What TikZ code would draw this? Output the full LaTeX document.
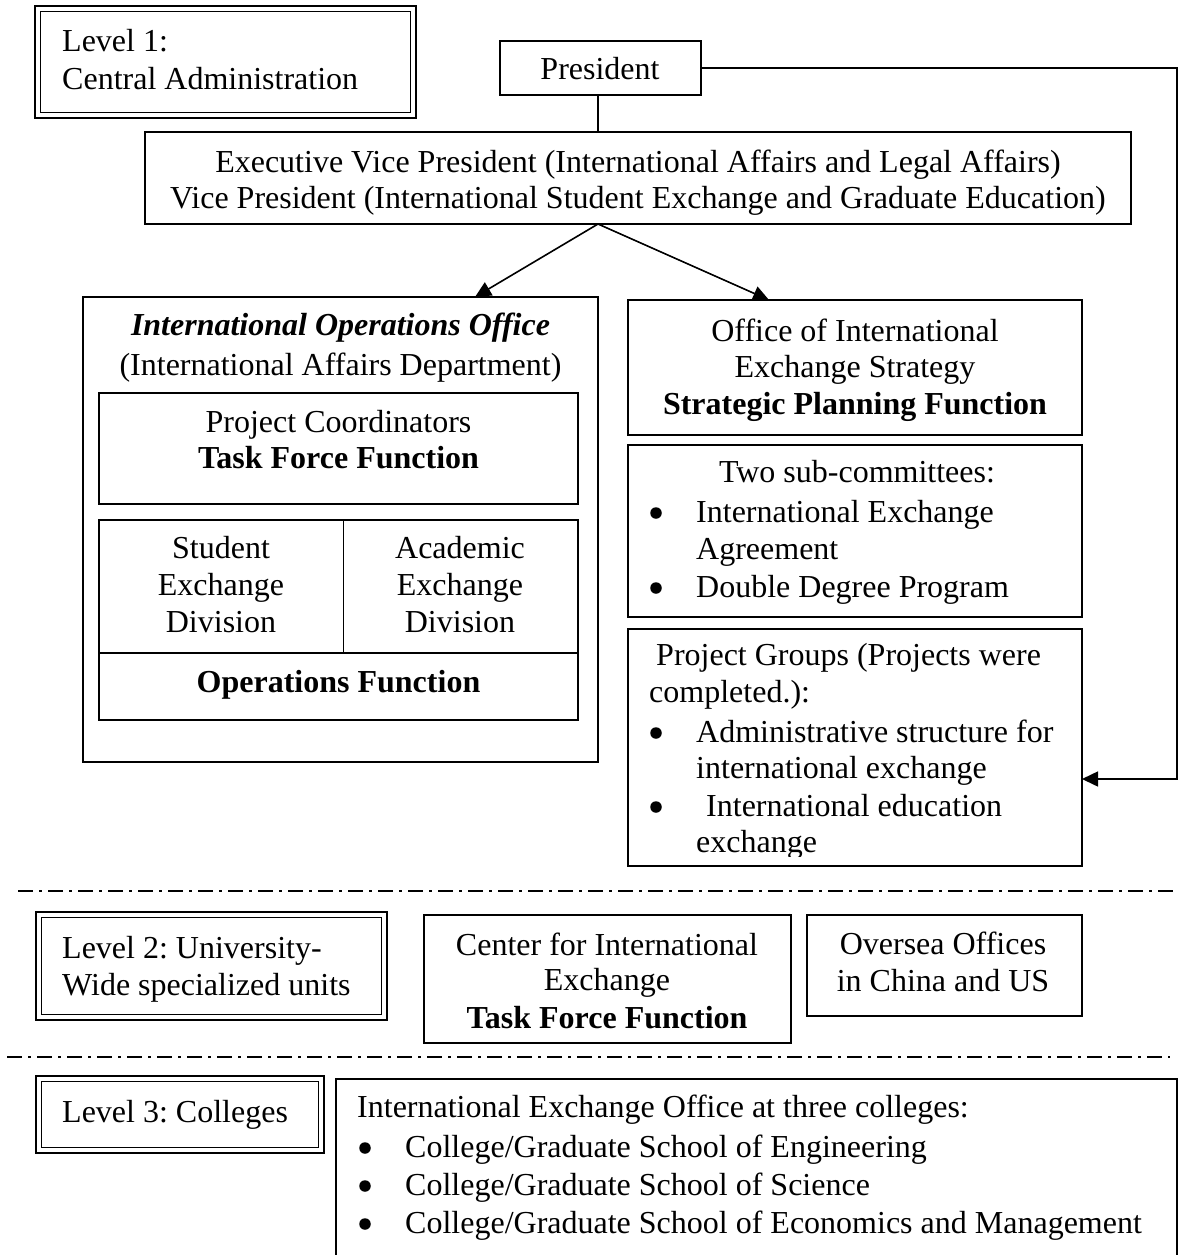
\documentclass[tikz,border=0pt]{standalone}
\usepackage{fontspec}
\setmainfont{Liberation Serif}
\usetikzlibrary{arrows.meta}

\begin{document}
\frenchspacing
\begin{tikzpicture}[x=1pt,y=-1pt,
  every node/.style={font=\fontsize{32}{37}\selectfont},
  box/.style={draw, line width=1.6pt, inner sep=0pt, outer sep=0pt},
  framebox/.style={draw, line width=2.5pt, inner sep=0pt, outer sep=0pt},
  innerframe/.style={line width=1.3pt},
  txt/.style={inner sep=0pt, anchor=base},
  txtl/.style={inner sep=0pt, anchor=base west},
  dot/.style={circle, fill, inner sep=0pt, minimum size=11.5pt},
  link/.style={line width=1.6pt},
  arr/.style={link, -{Triangle[length=16pt,width=15pt]}},
  levelsep/.style={line width=1.5pt, dash pattern=on 15pt off 6pt on 3pt off 6pt},
]
\useasboundingbox (0,0) rectangle (1178,1255);
\fill[white] (0,0) rectangle (1178,1255);

% ---------- Level 1 ----------
\node[framebox, minimum width=381pt, minimum height=112pt] (lvA) at (225.5,62) {};
\draw[innerframe] ([shift={(5.5,5.5)}]lvA.north west) rectangle ([shift={(-5.5,-5.5)}]lvA.south east);
\node[txtl] (lvA1) at (62,52) {Level 1:};
\node[txtl] (lvA2) at (62,89) {Central Administration};

\node[box, minimum width=201pt, minimum height=54pt] (pres) at (600.5,68) {};
\node[txt] (presT) at (600,80) {President};
\coordinate (presdown) at ([xshift=-2.5pt]pres.south);

\node[box, minimum width=986pt, minimum height=92pt] (evp) at (638,178) {};
\node[txt] (evp1) at (638,172) {Executive Vice President (International Affairs and Legal Affairs)};
\node[txt] (evp2) at (638,208) {Vice President (International Student Exchange and Graduate Education)};

% International Operations Office
\node[box, minimum width=515pt, minimum height=465pt] (ioo) at (340.5,529.5) {};
\node[txt] (ioo1) at (340.5,335) {\bfseries\itshape International Operations Office};
\node[txt] (ioo2) at (340.5,375) {(International Affairs Department)};

\node[box, minimum width=479pt, minimum height=111pt] (pc) at (338.5,448.5) {};
\node[txt] (pc1) at (338.5,432) {Project Coordinators};
\node[txt] (pc2) at (338.5,468) {\bfseries Task Force Function};

\node[box, minimum width=479pt, minimum height=200pt] (tbl) at (338.5,620) {};
\draw[link] ([yshift=-133pt]tbl.north west) -- ([yshift=-133pt]tbl.north east);
\draw[link] ([xshift=244.5pt]tbl.north west) -- ([xshift=244.5pt,yshift=-133pt]tbl.north west);
\node[txt] (sed1) at (221,558) {Student};
\node[txt] (sed2) at (221,595) {Exchange};
\node[txt] (sed3) at (221,632) {Division};
\node[txt] (aed1) at (460,558) {Academic};
\node[txt] (aed2) at (460,595) {Exchange};
\node[txt] (aed3) at (460,632) {Division};
\node[txt] (opf) at (338.5,692) {\bfseries Operations Function};

% Office of International Exchange Strategy
\node[box, minimum width=454pt, minimum height=135pt] (oies) at (855,367.5) {};
\node[txt] (oies1) at (855,341) {Office of International};
\node[txt] (oies2) at (855,377) {Exchange Strategy};
\node[txt] (oies3) at (855,414) {\bfseries Strategic Planning Function};

\node[box, minimum width=454pt, minimum height=172pt] (subc) at (855,531) {};
\node[txt] (subc0) at (857,482) {Two sub-committees:};
\node[dot] (subcb1) at (656,513) {};
\node[txtl] (subc1) at (696,522) {International Exchange};
\node[txtl] (subc2) at (696,559) {Agreement};
\node[dot] (subcb2) at (656,588) {};
\node[txtl] (subc3) at (696,597) {Double Degree Program};

\node[box, minimum width=454pt, minimum height=237pt] (pg) at (855,747.5) {};
\node[txtl] (pg1) at (656,665) {Project Groups (Projects were};
\node[txtl] (pg2) at (649,702) {completed.):};
\node[dot] (pgb1) at (656,733) {};
\node[txtl] (pg3) at (696,742) {Administrative structure for};
\node[txtl] (pg4) at (696,778) {international exchange};
\node[dot] (pgb2) at (656,807) {};
\node[txtl] (pg5) at (706,816) {International education};
\begin{scope}
  \clip (628,629) rectangle (1082,856);
  \node[txtl] (pg6) at (696,852) {exchange};
\end{scope}

% connectors
\draw[link] (presdown) -- (presdown |- evp.north);
\draw[arr] (presdown |- evp.south) -- ([xshift=134.5pt]ioo.north);
\draw[arr] (presdown |- evp.south) -- ([xshift=-86pt]oies.north);
\coordinate (rturn) at (1177,68);
\draw[arr] (pres.east) -- (pres.east -| rturn) |- ([yshift=-31.5pt]pg.east);

% level separators
\coordinate (sepAl) at (18,891);
\coordinate (sepAr) at (1178,891);
\draw[levelsep] (sepAl) -- (sepAr);
\coordinate (sepBl) at (7,1057);
\coordinate (sepBr) at (1170,1057);
\draw[levelsep] (sepBl) -- (sepBr);

% ---------- Level 2 ----------
\node[framebox, minimum width=351pt, minimum height=108pt] (lvB) at (211.5,966) {};
\draw[innerframe] ([shift={(5.5,5.5)}]lvB.north west) rectangle ([shift={(-5.5,-5.5)}]lvB.south east);
\node[txtl] (lvB1) at (62,958) {Level 2: University-};
\node[txtl] (lvB2) at (62,995) {Wide specialized units};

\node[box, minimum width=367pt, minimum height=128pt] (cie) at (607.5,979) {};
\node[txt] (cie1) at (607,955) {Center for International};
\node[txt] (cie2) at (607,990) {Exchange};
\node[txt] (cie3) at (607,1028) {\bfseries Task Force Function};

\node[box, minimum width=275pt, minimum height=101pt] (ovs) at (944.5,965.5) {};
\node[txt] (ovs1) at (943,954) {Oversea Offices};
\node[txt] (ovs2) at (943,991) {in China and US};

% ---------- Level 3 ----------
\node[framebox, minimum width=288pt, minimum height=77pt] (lvC) at (180,1114.5) {};
\draw[innerframe] ([shift={(5.5,5.5)}]lvC.north west) rectangle ([shift={(-5.5,-5.5)}]lvC.south east);
\node[txtl] (lvC1) at (62,1122) {Level 3: Colleges};

\coordinate (ieoNW) at (336,1079);
\coordinate (ieoNE) at (1177,1079);
\draw[line width=1.6pt] (ieoNW |- 0,1262) -- (ieoNW) -- (ieoNE) -- (ieoNE |- 0,1262);
\node[txtl] (ieo0) at (357,1117) {International Exchange Office at three colleges:};
\node[dot] (ieob1) at (365,1148) {};
\node[txtl] (ieo1) at (405,1157) {College/Graduate School of Engineering};
\node[dot] (ieob2) at (365,1186) {};
\node[txtl] (ieo2) at (405,1195) {College/Graduate School of Science};
\node[dot] (ieob3) at (365,1224) {};
\node[txtl] (ieo3) at (405,1233) {College/Graduate School of Economics and Management};
\end{tikzpicture}
\end{document}
